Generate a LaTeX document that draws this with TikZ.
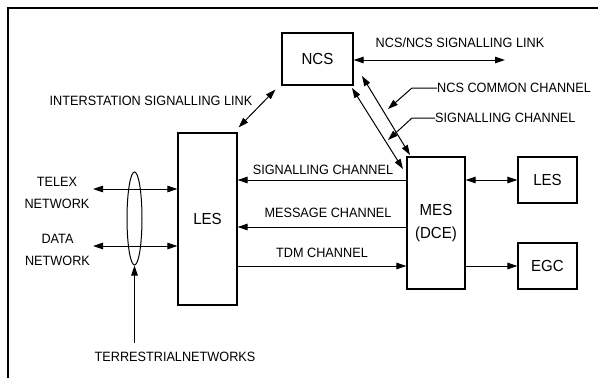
\documentclass[tikz,border=0pt]{standalone}
\usepackage{fontspec}
\setmainfont{Liberation Sans}[FakeStretch=0.94]
\usetikzlibrary{arrows.meta,calc,shapes.geometric}
\tikzset{
  box/.style={draw,line width=1.2pt,font=\fontsize{16}{23}\selectfont,align=center,inner sep=0pt},
  lbl/.style={font=\fontsize{13.5}{21.5}\selectfont,align=center,inner sep=0pt},
  arr/.style={-{Triangle[length=10pt,width=6.5pt]},line width=1pt},
  dbl/.style={{Triangle[length=10pt,width=6.5pt]}-{Triangle[length=10pt,width=6.5pt]},line width=1pt},
}

\begin{document}
\begin{tikzpicture}[x=1pt,y=-1pt]
  \useasboundingbox (0,0) rectangle (598,378);
  % frame
  \draw[line width=1.3pt] (8,378) -- (8,8) -- (598,8);
  % stations
  \node[box,minimum width=71pt,minimum height=52pt] (ncs) at (317.5,59) {NCS};
  \node[box,minimum width=59pt,minimum height=172pt] (lesa) at (207.5,219) {LES};
  \node[box,minimum width=58pt,minimum height=132pt] (mes) at (436,223) {MES\\(DCE)};
  \node[box,minimum width=59pt,minimum height=46pt] (lesb) at (547.5,180) {LES};
  \node[box,minimum width=59pt,minimum height=46pt] (egc) at (547.5,266) {EGC};
  % terrestrial side
  \node[draw,ellipse,line width=1pt,minimum width=15pt,minimum height=93pt,inner sep=0pt] (tnet) at (134.5,218.5) {};
  \node[lbl] (telex) at (57,193) {TELEX\\NETWORK};
  \node[lbl] (data) at (57.5,250) {DATA\\NETWORK};
  \node[lbl] (terr) at (175,357) {TERRESTRIALNETWORKS};
  \coordinate (tx) at (93,189);
  \coordinate (dt) at (93,246);
  \draw[dbl] (tx) -- (lesa.west |- tx);
  \draw[dbl] (dt) -- (lesa.west |- dt);
  \draw[arr] ($(tnet.south |- terr.north)+(0,-9)$) -- (tnet.south);
  % signalling links
  \node[lbl] (isl) at (151,101) {INTERSTATION SIGNALLING LINK};
  \node[lbl] (nnl) at (460,43) {NCS/NCS SIGNALLING LINK};
  \coordinate (nn) at (505,60);
  \draw[dbl] (ncs.east |- nn) -- (nn);
  \draw[dbl] ($(lesa.north east)+(1,-5)$) -- ($(ncs.south west)+(-6,4)$);
  % NCS <-> MES channels
  \coordinate (da1) at (352,88);
  \coordinate (da2) at (403,169);
  \coordinate (db1) at (362,76);
  \coordinate (db2) at (410,155);
  \draw[dbl] (da1) -- (da2);
  \draw[dbl] (db1) -- (db2);
  \node[lbl,anchor=west] (ncc) at (437,88) {NCS COMMON CHANNEL};
  \node[lbl,anchor=west] (sgc) at (435,118) {SIGNALLING CHANNEL};
  \draw[arr] (ncc.west) -- ++(-25,0) -- (388,109);
  \draw[arr] (sgc.west) -- ++(-23,0) -- (388,140);
  % LES <-> MES channels
  \node[lbl] (sch) at (323,170) {SIGNALLING CHANNEL};
  \node[lbl] (mch) at (328,213) {MESSAGE CHANNEL};
  \node[lbl] (tdm) at (322,253) {TDM CHANNEL};
  \draw[arr] (mes.west |- lesb.west) -- (lesa.east |- lesb.west);
  \draw[arr] (mes.west |- 0,227) -- (lesa.east |- 0,227);
  \draw[arr] (lesa.east |- egc.west) -- (mes.west |- egc.west);
  % MES to terminals
  \draw[dbl] (mes.east |- lesb.west) -- (lesb.west);
  \draw[arr] (mes.east |- egc.west) -- (egc.west);
\end{tikzpicture}
\end{document}
